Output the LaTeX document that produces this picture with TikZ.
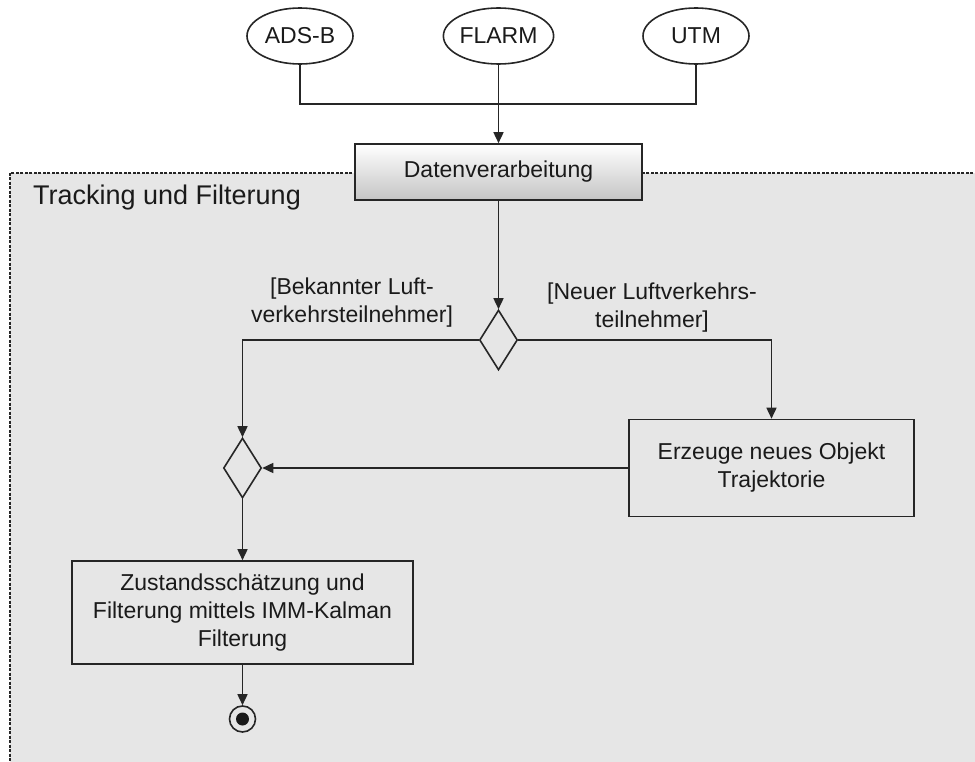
\documentclass[tikz,border=0pt]{standalone}
\usepackage{fontspec}
\setmainfont{Liberation Sans}
\usetikzlibrary{arrows.meta,shapes.geometric}
\definecolor{linec}{HTML}{262626}
\definecolor{textc}{HTML}{1A1A1A}
\definecolor{areac}{HTML}{E6E6E6}
\begin{document}
\begin{tikzpicture}[x=1pt,y=-1pt,
  every node/.style={text=textc,font=\fontsize{23}{28}\selectfont},
  conn/.style={draw=linec,line width=1.6pt},
  flow/.style={conn,-{Triangle[length=11pt,width=10pt]}},
  source/.style={ellipse,draw=linec,line width=1.6pt,fill=white,
    minimum width=106,minimum height=56,inner sep=0pt},
  action/.style={rectangle,draw=linec,line width=1.6pt,align=center,inner sep=0pt},
  choice/.style={diamond,draw=linec,line width=1.6pt,inner sep=0pt,
    minimum width=38,minimum height=60,aspect=0.63},
  guard/.style={align=center,inner sep=0pt},
]
\useasboundingbox (0,0) rectangle (975,762);
% swimlane area
\begin{scope}
  \clip (0,0) rectangle (975,762);
  \draw[fill=areac,draw=linec,line width=1.1pt,dash pattern=on 3pt off 1.5pt]
    (10,173) rectangle (995,790);
\end{scope}
\node[anchor=west,inner sep=0pt,font=\fontsize{27}{32}\selectfont] (title) at (33,198) {Tracking und Filterung};

% data sources
\node[source] (ads) at (300,36) {ADS-B};
\node[source] (flarm) at (498.5,36) {FLARM};
\node[source] (utm) at (696,36) {UTM};

% processing
\node[action,minimum width=287,minimum height=56,top color=white,bottom color=black!23] (dv) at (498.5,172) {Datenverarbeitung};
\coordinate (join) at (498.5,104);

\node[choice] (d1) at (498.5,340) {};
\node[choice] (d2) at (242.5,468) {};
\node[action,minimum width=285,minimum height=97,fill=areac] (erz) at (771.5,468) {Erzeuge neues Objekt\\Trajektorie};
\node[action,minimum width=341,minimum height=103,fill=areac] (zu) at (242.5,612.5) {Zustandsschätzung und\\Filterung mittels IMM-Kalman\\Filterung};
\node[circle,draw=linec,line width=1.6pt,minimum size=26,inner sep=0pt] (fin) at (242.5,719) {};
\fill[textc] (fin.center) circle (6.5);

\node[guard] (g1) at (352,303) {[Bekannter Luft-\\verkehrsteilnehmer]};
\node[guard] (g2) at (652,308) {[Neuer Luftverkehrs-\\teilnehmer]};

% connectors
\draw[conn] (ads.south) |- (join);
\draw[conn] (utm.south) |- (join);
\draw[flow] (flarm.south) -- (dv.north);
\draw[flow] (dv.south) -- (d1.north);
\draw[flow] (d1.west) -| (d2.north);
\draw[flow] (d1.east) -| (erz.north);
\draw[flow] (erz.west) -- (d2.east);
\draw[flow] (d2.south) -- (zu.north);
\draw[flow] (zu.south) -- (fin.north);
\end{tikzpicture}
\end{document}
